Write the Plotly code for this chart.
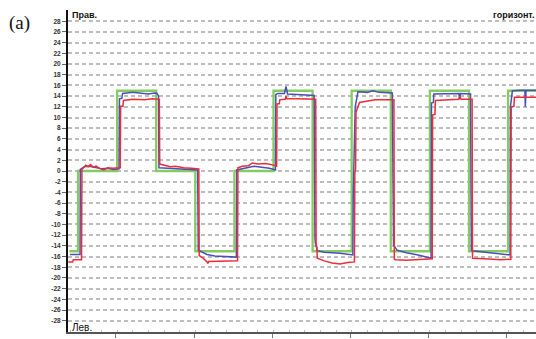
import plotly.graph_objects as go

# Commanded tilt angle (step program), seconds / degrees
cmd_t = [3.9, 5, 10, 15, 20, 25, 30, 35, 40, 45, 50, 55, 60, 64]
cmd_v = [-15, 0, 15, 0, -15, 0, 15, -15, 15, -15, 15, -15, 15, 15]

# Measured response, channel 1 (blue)
blue_t = [3.98, 5.26, 5.3, 5.8, 6.5, 7.2, 8.0, 8.8, 9.5, 10.25,
          10.3, 10.6, 10.7, 12.0, 13.0, 14.0, 14.8, 15.1, 15.3,
          15.35, 16.5, 18.0, 19.5, 20.3,
          20.38, 21.0, 21.5, 22.5, 24.0, 25.25,
          25.3, 26.5, 27.5, 28.5, 29.5, 30.25,
          30.3, 30.6, 31.4, 31.6, 31.8, 33.0, 34.5, 35.2,
          35.3, 35.35, 35.6, 36.5, 38.5, 39.5, 40.15,
          40.2, 40.25, 40.35, 40.45, 40.8, 42.0, 42.7, 43.5, 45.2,
          45.3, 45.35, 45.8, 47.0, 48.5, 50.15,
          50.2, 50.45, 50.5, 52.0, 53.7, 53.8, 53.9, 55.2,
          55.3, 55.4, 57.0, 58.5, 60.25,
          60.3, 60.55, 61.5, 62.15, 62.2, 62.3, 63.7]
blue_v = [-15.6, -15.6, 0.3, 0.8, 0.9, 0.6, 0.4, 0.5, 0.3, 0.4,
          13.5, 13.6, 14.5, 14.7, 14.5, 14.4, 14.6, 14.5, 14.0,
          0.6, 0.5, 0.4, 0.3, 0.2,
          -14.8, -15.2, -15.6, -15.9, -16.0, -16.1,
          0.2, 0.6, 0.9, 0.7, 0.5, 0.2,
          14.3, 14.5, 14.5, 15.8, 14.4, 14.3, 14.2, 14.1,
          -12.5, -13.5, -14.9, -15.2, -15.4, -15.6, -15.7,
          -4.0, -0.5, 0.5, 12.0, 14.8, 14.7, 15.0, 14.7, 14.6,
          -12.9, -13.8, -14.8, -15.3, -15.7, -16.3,
          12.7, 12.8, 14.4, 14.5, 14.5, 13.4, 14.5, 14.4,
          -14.8, -14.9, -15.2, -15.5, -15.7,
          12.0, 15.0, 15.1, 15.1, 12.0, 15.1, 15.1]

# Measured response, channel 2 (red)
red_t = [3.75, 4.3, 4.4, 5.45, 5.5, 6.0, 6.3, 6.6, 7.0, 7.3, 7.9, 8.3, 8.8, 9.4, 10.4,
         10.45, 10.75, 10.8, 12.0, 13.5, 14.5, 15.4,
         15.45, 16.2, 16.8, 17.5, 18.5, 19.5, 20.45,
         20.5, 21.0, 21.5, 21.6, 21.7, 22.0, 24.0, 25.4,
         25.45, 26.0, 26.8, 27.3, 28.0, 29.0, 30.0, 30.4,
         30.45, 30.75, 30.8, 31.5, 31.6, 31.7, 33.0, 35.4,
         35.45, 35.55, 35.6, 36.5, 37.5, 38.5, 39.5, 40.35,
         40.4, 40.5, 40.55, 41.0, 43.0, 45.4,
         45.45, 45.6, 47.0, 49.0, 50.3,
         50.35, 50.65, 50.7, 52.0, 53.7, 53.85, 54.0, 55.4,
         55.45, 57.0, 59.0, 60.35,
         60.4, 60.75, 60.8, 62.0, 63.7]
red_v = [-17.0, -17.0, -16.6, -16.6, 0.3, 1.1, 0.8, 1.2, 0.7, 0.9, 0.4, 0.2, 0.6, 0.5, 0.6,
         12.1, 12.1, 13.2, 13.4, 13.3, 13.5, 13.4,
         1.3, 1.0, 0.8, 0.9, 0.6, 0.5, 0.4,
         -15.8, -16.3, -17.0, -17.3, -16.9, -16.9, -16.9, -16.8,
         0.6, 0.9, 1.0, 1.5, 1.3, 1.4, 1.1, 0.9,
         12.5, 12.6, 13.3, 13.4, 14.0, 13.5, 13.5, 13.4,
         -13.8, -14.2, -16.3, -16.8, -17.2, -17.4, -17.1, -17.0,
         -0.5, 0.5, 11.0, 12.8, 13.3, 13.3,
         -16.5, -16.6, -16.7, -16.6, -16.4,
         10.5, 10.6, 13.2, 13.3, 13.4, 13.9, 13.4, 13.4,
         -16.3, -16.4, -16.6, -16.5,
         12.0, 12.1, 13.8, 13.8, 13.8]

y_ticks = list(range(-28, 30, 2))

fig = go.Figure()
fig.add_trace(go.Scatter(x=cmd_t, y=cmd_v, mode="lines", line_shape="hv",
                         line=dict(color="#84cc62", width=2.3), hoverinfo="skip"))
fig.add_trace(go.Scatter(x=blue_t, y=blue_v, mode="lines",
                         line=dict(color="#4b4fb8", width=1.5), hoverinfo="skip"))
fig.add_trace(go.Scatter(x=red_t, y=red_v, mode="lines",
                         line=dict(color="#ec2d3a", width=1.5), hoverinfo="skip"))

fig.update_layout(
    width=536, height=339,
    margin=dict(l=68, r=0, t=10, b=7),
    paper_bgcolor="white", plot_bgcolor="white",
    showlegend=False,
    font=dict(family="Liberation Sans, Arial, sans-serif", color="#222"),
    xaxis=dict(range=[3.72, 63.57], showgrid=False, zeroline=False,
               showline=True, linecolor="#555", linewidth=2,
               ticks="outside", ticklen=4, tickcolor="#777",
               tick0=9.85, dtick=10, showticklabels=False,
               minor=dict(ticks="inside", ticklen=2, tickcolor="#bbb", dtick=2)),
    yaxis=dict(range=[-30.1, 30.1], tickvals=y_ticks,
               ticktext=[str(v) for v in y_ticks],
               tickfont=dict(size=6.5, color="#333", weight="bold",
                             family="Liberation Sans, Arial, sans-serif"),
               ticks="outside", ticklen=4, tickcolor="#666",
               showline=True, linecolor="#111", linewidth=2,
               zeroline=False, showgrid=True, gridcolor="#bdbdbd",
               gridwidth=1.5, griddash="4px,3px"),
)

fig.add_annotation(text="Прав.", xref="paper", yref="paper", x=0.005, y=0.985,
                   xanchor="left", yanchor="middle", showarrow=False,
                   font=dict(size=9, color="#111", weight="bold"))
fig.add_annotation(text="горизонт.", xref="paper", yref="paper", x=1.0, y=0.985,
                   xanchor="right", yanchor="middle", showarrow=False,
                   font=dict(size=9, color="#111", weight="bold"))
fig.add_annotation(text="Лев.", xref="paper", yref="paper", x=0.005, y=0.015,
                   xanchor="left", yanchor="middle", showarrow=False,
                   font=dict(size=10, color="#111"))
fig.add_annotation(text="(a)", xref="paper", yref="paper", x=-0.13, y=0.96,
                   xanchor="left", yanchor="middle", showarrow=False,
                   font=dict(size=19, color="#111", family="Liberation Serif, Times New Roman, serif"))

fig.write_html("out.html")
